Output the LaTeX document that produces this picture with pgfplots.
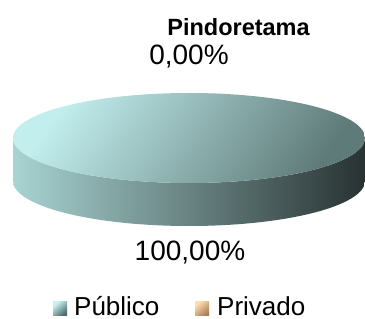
\documentclass[border=0pt]{standalone}
\usepackage{pgfplots}
\pgfplotsset{compat=1.18}
\usepackage{pgfplotstable}
\usepackage{fontspec}
\setmainfont{Liberation Sans}
\definecolor{topL}{HTML}{C2EEEE}
\definecolor{topR}{HTML}{5F7B79}
\definecolor{sideL}{HTML}{A8D4D2}
\definecolor{sideM}{HTML}{546A6A}
\definecolor{sideR}{HTML}{283232}
\definecolor{pubL}{HTML}{C8F2F2}
\definecolor{pubD}{HTML}{4A6666}
\definecolor{priL}{HTML}{FFDCB2}
\definecolor{priD}{HTML}{A87C52}
\pgfplotstableread[col sep=comma]{
label,value
Publico,100
Privado,0
}\piedata
\begin{document}
\begin{tikzpicture}
\pgfplotstablegetelem{0}{value}\of\piedata
\pgfmathsetmacro\angA{3.6*\pgfplotsretval}
\begin{axis}[width=365bp,height=319bp,scale only axis,axis lines=none,
  xmin=0,xmax=365,ymin=0,ymax=319,clip=false]
\path (axis cs:0,0) rectangle (axis cs:365,319);
% side of the slice (front half)
\shade[left color=sideL,middle color=sideM,right color=sideR]
  (axis cs:13,181) -- (axis cs:13,138)
  arc[start angle=180,end angle=360,x radius=176bp,y radius=45bp]
  -- (axis cs:365,181)
  arc[start angle=0,end angle=-180,x radius=176bp,y radius=45bp] -- cycle;
% top face: slice of \angA degrees
\shade[top color=topL,bottom color=topR,shading angle=55]
  (axis cs:189,181) -- ([shift={(90:176bp and 45bp)}]axis cs:189,181)
  arc[start angle=90,delta angle=-\angA,x radius=176bp,y radius=45bp] -- cycle;
% labels
\node[anchor=base,font=\fontsize{23.5bp}{27bp}\selectfont\bfseries] at (axis cs:238.5,283) {Pindoretama};
\node[anchor=base,font=\fontsize{28bp}{32bp}\selectfont] at (axis cs:189,254) {0,00\%};
\node[anchor=base,font=\fontsize{28bp}{32bp}\selectfont] at (axis cs:190,58) {100,00\%};
% legend
\shade[top color=pubL,bottom color=pubD,shading angle=40] (axis cs:53,3) rectangle (axis cs:67,17);
\node[anchor=base west,inner sep=0pt,font=\fontsize{26bp}{30bp}\selectfont] at (axis cs:74,4) {Público};
\shade[top color=priL,bottom color=priD,shading angle=40] (axis cs:195,3) rectangle (axis cs:209,17);
\node[anchor=base west,inner sep=0pt,font=\fontsize{26bp}{30bp}\selectfont] at (axis cs:217,4) {Privado};
\end{axis}
\end{tikzpicture}
\end{document}
